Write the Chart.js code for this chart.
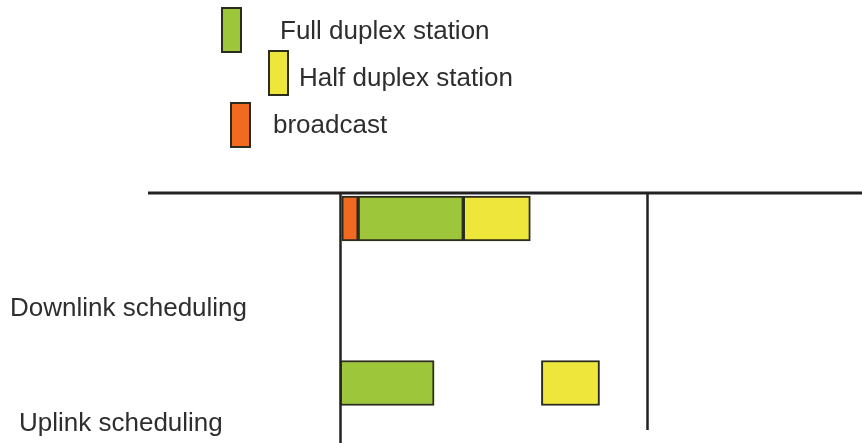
<!DOCTYPE html>
<html>
<head>
<meta charset="utf-8">
<script src="https://cdn.jsdelivr.net/npm/chart.js@4.4.1/dist/chart.umd.min.js"></script>
<style>
  html, body { margin: 0; padding: 0; background: #fff; }
  canvas { display: block; }
</style>
</head>
<body>
<canvas id="schedChart" width="862" height="443"></canvas>
<script>
// rows of the frame (0 = downlink, 1 = uplink)
const rowLabels = ['Downlink scheduling', 'Uplink scheduling'];
const rowIndex = [0, 1];

// slot [start, end] per row, in % of the frame
const broadcastSlots = [[0.6, 5.9], null];
const fullDuplexSlots = [[5.9, 40.1], [0, 30.6]];
const halfDuplexSlots = [[40.1, 61.9], [65.5, 84.4]];

// frame boundaries (the vertical lines)
const frameBounds = [0, 100];

const seriesNames = ['Full duplex station', 'Half duplex station', 'broadcast'];
const seriesColors = ['#9dc63b', '#eee63a', '#f26a1f'];

function toBars(slots) {
    const out = [];
    slots.forEach(function (s, i) {
        if (s) out.push({ x: s, y: rowIndex[i] });
    });
    return out;
}

document.addEventListener('DOMContentLoaded', function () {
    const ctx = document.getElementById('schedChart');
    Chart.defaults.font.family = "'Liberation Sans', Arial, sans-serif";

    // draws the frame lines, the row titles and the legend boxes
    const framePlugin = {
        id: 'frameLines',
        afterDatasetsDraw: function (chart) {
            const c = chart.ctx;
            const area = chart.chartArea;
            const xs = chart.scales.x;
            c.save();
            c.strokeStyle = '#222';
            c.lineWidth = 3;
            c.beginPath();
            c.moveTo(area.left, area.top);
            c.lineTo(area.right, area.top);
            c.stroke();

            c.lineWidth = 2.5;
            const ends = [443, 430];
            frameBounds.forEach(function (v, i) {
                const px = Math.round(xs.getPixelForValue(v)) + 0.5;
                c.beginPath();
                c.moveTo(px, area.top);
                c.lineTo(px, ends[i]);
                c.stroke();
            });

            // row titles
            c.fillStyle = '#2e2e2e';
            c.font = "26px 'Liberation Sans', Arial, sans-serif";
            c.textBaseline = 'alphabetic';
            const titlePos = [[10, 316], [19, 431]];
            rowLabels.forEach(function (t, i) {
                c.fillText(t, titlePos[i][0], titlePos[i][1]);
            });

            // legend
            const boxPos = [[222, 8], [269, 51], [231, 103]];
            const textPos = [[280, 39], [299, 86], [273, 133]];
            chart.data.datasets.forEach(function (ds, i) {
                c.fillStyle = ds.backgroundColor;
                c.fillRect(boxPos[i][0], boxPos[i][1], 19, 44);
                c.strokeStyle = '#2b2b1e';
                c.lineWidth = 2;
                c.strokeRect(boxPos[i][0], boxPos[i][1], 19, 44);
                c.fillStyle = '#2e2e2e';
                c.fillText(ds.label, textPos[i][0], textPos[i][1]);
            });
            c.restore();
        }
    };

    new Chart(ctx.getContext('2d'), {
        type: 'bar',
        data: {
            datasets: [
                { label: seriesNames[0], data: toBars(fullDuplexSlots), backgroundColor: seriesColors[0] },
                { label: seriesNames[1], data: toBars(halfDuplexSlots), backgroundColor: seriesColors[1] },
                { label: seriesNames[2], data: toBars(broadcastSlots), backgroundColor: seriesColors[2] }
            ]
        },
        options: {
            indexAxis: 'y',
            responsive: false,
            animation: false,
            grouped: false,
            barThickness: 45,
            borderWidth: 2,
            borderColor: '#2b2b1e',
            borderSkipped: false,
            layout: { padding: { left: 148, top: 193, right: 0, bottom: 0 } },
            scales: {
                x: { type: 'linear', min: -62.44, max: 169.76, display: false },
                y: { type: 'linear', reverse: true, offset: false, min: -0.155, max: 1.365, display: false }
            },
            plugins: {
                legend: { display: false },
                tooltip: { enabled: false }
            }
        },
        plugins: [framePlugin]
    });
});
</script>
</body>
</html>
